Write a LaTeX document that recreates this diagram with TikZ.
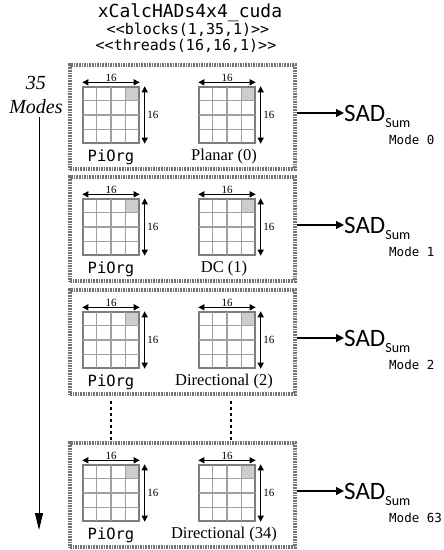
\documentclass[tikz,border=0pt]{standalone}
\usepackage{fontspec}
\setmainfont{Liberation Serif}
\setmonofont{DejaVu Sans Mono}
\newfontfamily\sadfont{Carlito}
\usetikzlibrary{positioning, arrows.meta, calc}
\definecolor{boxgray}{RGB}{115,115,115}
\definecolor{cellgray}{RGB}{205,205,205}
\definecolor{linegray}{RGB}{160,160,160}
\definecolor{edgegray}{RGB}{125,125,125}

\tikzset{
  modebox/.style={draw=boxgray, line width=3.2pt, dash pattern=on 1.6pt off 1pt, minimum width=225pt, minimum height=104pt, inner sep=0pt},
  cellgrid/.style={draw=edgegray, line width=1.4pt, minimum size=56pt, inner sep=0pt},
  celline/.style={linegray, line width=1.2pt},
  dimarrow/.style={{Triangle[length=6pt,width=6pt]}-{Triangle[length=6pt,width=6pt]}, line width=1.1pt},
  dimtext/.style={font=\fontsize{11}{11}\selectfont, inner sep=1pt},
  outarrow/.style={-{Triangle[length=8pt,width=8pt]}, line width=1.1pt},
  modearrow/.style={-{Triangle[length=17pt,width=8pt]}, line width=1pt},
  dotline/.style={line width=1.7pt, dash pattern=on 3.5pt off 2.5pt},
  sadtext/.style={font=\sadfont\fontsize{25}{25}\selectfont, inner sep=0pt},
  modetext/.style={font=\ttfamily\fontsize{12.5}{12.5}\selectfont, inner sep=0pt},
  orgtext/.style={font=\ttfamily\fontsize{15.5}{15.5}\selectfont},
  predtext/.style={font=\fontsize{16.5}{16.5}\selectfont}
}

\begin{document}
\begin{tikzpicture}[x=1pt, y=-1pt]
  \useasboundingbox (0,0) rectangle (444,550);

  \node[font=\ttfamily\fontsize{18}{18}\selectfont] (kernel) at (190,13) {xCalcHADs4x4\_cuda};
  \node[font=\ttfamily\fontsize{15}{15}\selectfont] (blocks) at (188,30) {<{}<blocks(1,35,1)>{}>};
  \node[font=\ttfamily\fontsize{15}{15}\selectfont] (threads) at (186,46) {<{}<threads(16,16,1)>{}>};

  \node[font=\itshape\fontsize{20}{24}\selectfont, align=center] (modes) at (36,95) {35\\Modes};
  \coordinate (modesend) at (39,530);
  \draw[modearrow] (modes.south -| modesend) -- (modesend);

  \foreach \T/\lab/\md [count=\i] in {65/Planar (0)/0, 177/DC (1)/1, 290/Directional (2)/2, 443/Directional (34)/63} {
    \node[modebox] (box\i) at (182.5,\T+52) {};
    \foreach \gx/\gn in {83/a, 199/b} {
      \fill[cellgray] (\gx+42,\T+22) rectangle (\gx+56,\T+36);
      \node[cellgrid] (grid\gn\i) at (\gx+28,\T+50) {};
      \foreach \k in {1,2,3} {
        \draw[celline] ($(grid\gn\i.north west)!\k/4!(grid\gn\i.north east)$) -- ($(grid\gn\i.south west)!\k/4!(grid\gn\i.south east)$);
        \draw[celline] ($(grid\gn\i.north west)!\k/4!(grid\gn\i.south west)$) -- ($(grid\gn\i.north east)!\k/4!(grid\gn\i.south east)$);
      }
      \draw[draw=edgegray, line width=1.4pt] (grid\gn\i.north west) rectangle (grid\gn\i.south east);
      \draw[dimarrow] ([yshift=4pt]grid\gn\i.north west) -- node[above, dimtext, inner sep=0.3pt] {16} ([yshift=4pt]grid\gn\i.north east);
      \draw[dimarrow] ([xshift=5pt]grid\gn\i.north east) -- node[right, dimtext, inner sep=2pt] {16} ([xshift=5pt]grid\gn\i.south east);
    }
    \node[orgtext] (org\i) at (111,\T+92) {PiOrg};
    \node[predtext] (pred\i) at (224,\T+92) {\lab};
    \node[sadtext, anchor=base west] (sad\i) at (344,\T+56) {SAD\raisebox{-6pt}{\fontsize{14}{14}\selectfont Sum}};
    \draw[outarrow] ([yshift=4pt]box\i.east) -- ([yshift=4pt]box\i.east -| sad\i.west);
    \node[modetext, anchor=west] (mode\i) at (389,\T+75) {Mode \md};
  }

  \draw[dotline] ([yshift=-5pt]box3.south -| grida3) -- (box4.north -| grida4);
  \draw[dotline] ([yshift=-5pt,xshift=4pt]box3.south -| gridb3) -- ([xshift=4pt]box4.north -| gridb4);
\end{tikzpicture}
\end{document}
